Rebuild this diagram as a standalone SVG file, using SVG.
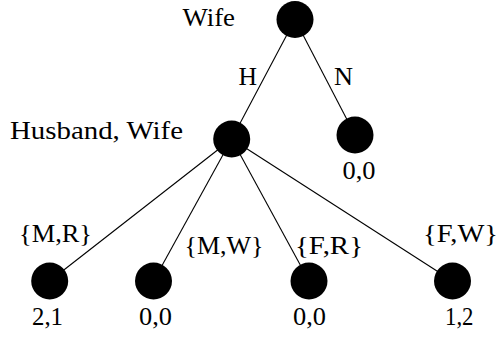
<svg xmlns="http://www.w3.org/2000/svg" width="499" height="341" viewBox="0 0 499 341">
<style>
.n{fill:#000}
.e{stroke:#000;stroke-width:1.1;fill:none}
.t{font-family:'Liberation Serif','DejaVu Serif',serif;font-size:25px;fill:#000}
</style>
<rect width="499" height="341" fill="#fff"/>
<g id="edges">
<line class="e" x1="295" y1="19.5" x2="231.7" y2="139"/>
<line class="e" x1="295" y1="19.5" x2="355" y2="135"/>
<line class="e" x1="231.7" y1="139" x2="49.7" y2="281"/>
<line class="e" x1="231.7" y1="139" x2="153.5" y2="281"/>
<line class="e" x1="231.7" y1="139" x2="309" y2="281"/>
<line class="e" x1="231.7" y1="139" x2="452.5" y2="281"/>
</g>
<g id="labels">
<text class="t" x="238.5" y="84.5" textLength="18.5" lengthAdjust="spacingAndGlyphs">H</text>
<text class="t" x="334" y="84.5" textLength="19" lengthAdjust="spacingAndGlyphs">N</text>
<text class="t" x="19" y="241.5" textLength="73" lengthAdjust="spacingAndGlyphs">{M,R}</text>
<text class="t" x="184.5" y="253.5" textLength="79" lengthAdjust="spacingAndGlyphs">{M,W}</text>
<text class="t" x="295" y="253.5" textLength="68" lengthAdjust="spacingAndGlyphs">{F,R}</text>
<text class="t" x="423" y="241.5" textLength="75" lengthAdjust="spacingAndGlyphs">{F,W}</text>
</g>
<g id="root"><circle class="n" cx="295" cy="19.5" r="18.5"/><text class="t" x="182.5" y="26" textLength="52.5" lengthAdjust="spacingAndGlyphs">Wife</text></g>
<g id="husband"><circle class="n" cx="231.7" cy="139" r="18.5"/><text class="t" x="10" y="138.5" textLength="173" lengthAdjust="spacingAndGlyphs">Husband, Wife</text></g>
<g id="leafN"><circle class="n" cx="355" cy="135" r="18.5"/><text class="t" x="342.5" y="178.5" textLength="33" lengthAdjust="spacingAndGlyphs">0,0</text></g>
<g id="leaf1"><circle class="n" cx="49.7" cy="281" r="18.5"/><text class="t" x="32" y="325" textLength="31" lengthAdjust="spacingAndGlyphs">2,1</text></g>
<g id="leaf2"><circle class="n" cx="153.5" cy="281" r="18.5"/><text class="t" x="139" y="325" textLength="33" lengthAdjust="spacingAndGlyphs">0,0</text></g>
<g id="leaf3"><circle class="n" cx="309" cy="281" r="18.5"/><text class="t" x="293" y="325" textLength="33" lengthAdjust="spacingAndGlyphs">0,0</text></g>
<g id="leaf4"><circle class="n" cx="452.5" cy="281" r="18.5"/><text class="t" x="445" y="325" textLength="28.5" lengthAdjust="spacingAndGlyphs">1,2</text></g>
</svg>
